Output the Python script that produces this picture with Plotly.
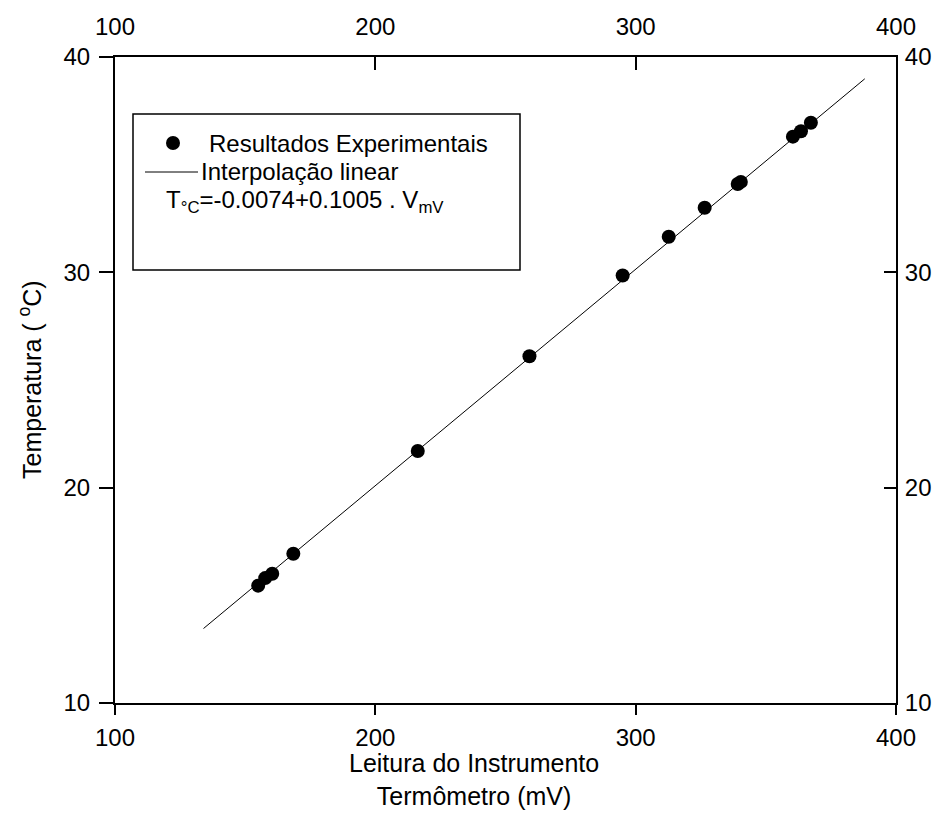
import plotly.graph_objects as go

# Calibration readings: instrument reading (mV) and measured temperature (°C)
leitura_mv = [155.0, 157.7, 160.4, 168.5, 216.3, 259.2, 295.0, 312.7,
              326.5, 339.2, 340.4, 360.4, 363.5, 367.3]
temperatura_c = [15.45, 15.8, 16.0, 16.93, 21.7, 26.1, 29.85, 31.65,
                 33.0, 34.1, 34.2, 36.3, 36.55, 36.95]

# Linear fit T = a + b * V
coef_a = -0.0074
coef_b = 0.1005
fit_x = [134.0, 388.0]
fit_y = [coef_a + coef_b * v for v in fit_x]

x_ticks = [100, 200, 300, 400]
y_ticks = [10, 20, 30, 40]
x_range = [100, 400]
y_range = [10, 40]

FONT = "Liberation Sans, Arial, sans-serif"
W, H = 943, 825
L, R, T, B = 115, 47, 57, 122
PW, PH = W - L - R, H - T - B


def px(x):
    return (x - L) / PW


def py(y):
    return (H - B - y) / PH


fig = go.Figure()

fig.add_trace(go.Scatter(
    x=fit_x, y=fit_y, mode="lines",
    line=dict(color="black", width=1), showlegend=False, hoverinfo="skip"))

fig.add_trace(go.Scatter(
    x=leitura_mv, y=temperatura_c, mode="markers",
    marker=dict(color="black", size=14, line=dict(width=0)),
    showlegend=False))

# invisible trace so the top and right axes are drawn
fig.add_trace(go.Scatter(
    x=x_range, y=y_range, xaxis="x2", yaxis="y2", mode="markers",
    marker=dict(opacity=0), showlegend=False, hoverinfo="skip"))

axis_common = dict(showgrid=False, zeroline=False, showline=True,
                   linecolor="black", linewidth=2, tickwidth=1.5,
                   tickcolor="black",
                   tickfont=dict(family=FONT, size=24, color="black"))

fig.update_layout(
    width=W, height=H,
    margin=dict(l=L, r=R, t=T, b=B),
    paper_bgcolor="white", plot_bgcolor="white",
    xaxis=dict(range=x_range, tickvals=x_ticks, ticks="outside", ticklen=10,
               ticklabelstandoff=2, **axis_common),
    yaxis=dict(range=y_range, tickvals=y_ticks, ticks="outside", ticklen=14,
               ticklabelstandoff=4, **axis_common),
    xaxis2=dict(range=x_range, tickvals=x_ticks, ticks="inside", side="top",
                ticklen=13, ticklabelstandoff=10,
                overlaying="x", anchor="y", **axis_common),
    yaxis2=dict(range=y_range, tickvals=y_ticks, ticks="inside", side="right",
                ticklen=12, ticklabelstandoff=2,
                overlaying="y", anchor="x", **axis_common),
)

# Legend box
fig.add_shape(type="rect", xref="paper", yref="paper",
              x0=px(133), x1=px(520), y0=py(270), y1=py(114),
              line=dict(color="black", width=1.5), fillcolor="white")
fig.add_shape(type="circle", xref="paper", yref="paper",
              xsizemode="pixel", ysizemode="pixel",
              xanchor=px(173), yanchor=py(143),
              x0=-7, x1=7, y0=-7, y1=7,
              fillcolor="black", line=dict(width=0))
fig.add_shape(type="line", xref="paper", yref="paper",
              x0=px(145), x1=px(198), y0=py(172), y1=py(172),
              line=dict(color="black", width=1))

legend_font = dict(family=FONT, size=24, color="black")
fig.add_annotation(xref="paper", yref="paper", x=px(207), y=py(143),
                   xanchor="left", yanchor="middle", showarrow=False,
                   text="Resultados Experimentais", font=legend_font)
fig.add_annotation(xref="paper", yref="paper", x=px(199), y=py(172),
                   xanchor="left", yanchor="middle", showarrow=False,
                   text="Interpolação linear", font=legend_font)
fig.add_annotation(xref="paper", yref="paper", x=px(164), y=py(201),
                   xanchor="left", yanchor="middle", showarrow=False,
                   text=f"T<sub>°C</sub>={coef_a:.4f}+{coef_b:.4f} . V<sub>mV</sub>",
                   font=legend_font)

# Axis titles
title_font = dict(family=FONT, size=25, color="black")
fig.add_annotation(xref="paper", yref="paper", x=px(474), y=py(747),
                   xanchor="center", yanchor="top", showarrow=False,
                   text="Leitura do Instrumento<br>Termômetro (mV)",
                   font=title_font)
fig.add_annotation(xref="paper", yref="paper", x=px(30), y=py(380),
                   xanchor="center", yanchor="middle", showarrow=False,
                   textangle=-90, text="Temperatura ( <sup>o</sup>C)",
                   font=title_font)

fig.write_html("out.html")
